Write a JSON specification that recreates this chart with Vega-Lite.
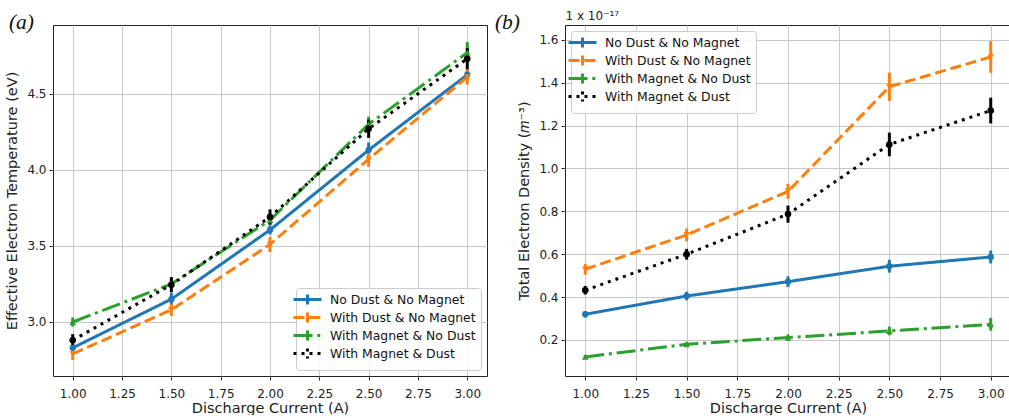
{
  "$schema": "https://vega.github.io/schema/vega-lite/v6.json",
  "background": "white",
  "padding": {"left": 4, "top": 8, "right": 0, "bottom": 0},
  "spacing": 6,
  "config": {
    "font": "DejaVu Sans",
    "view": {"stroke": "#222", "strokeWidth": 1},
    "axis": {
      "labelFont": "DejaVu Sans",
      "labelFontSize": 12,
      "labelColor": "#222",
      "titleFont": "DejaVu Sans",
      "titleFontSize": 14.5,
      "titleFontWeight": "normal",
      "titleColor": "#222",
      "domain": false,
      "tickColor": "#333",
      "tickSize": 4,
      "labelPadding": 3,
      "gridColor": "#c8c8c8",
      "gridWidth": 1
    },
    "axisX": {"labelPadding": 8},
    "legend": {
      "labelFont": "DejaVu Sans",
      "labelFontSize": 12.4,
      "labelColor": "#111",
      "labelLimit": 300
    }
  },
  "datasets": {
    "temperature": [
      {"series": "No Dust & No Magnet", "I": 1.0, "v": 2.83, "err": 0.02},
      {"series": "No Dust & No Magnet", "I": 1.5, "v": 3.15, "err": 0.04},
      {"series": "No Dust & No Magnet", "I": 2.0, "v": 3.605, "err": 0.03},
      {"series": "No Dust & No Magnet", "I": 2.5, "v": 4.13, "err": 0.05},
      {"series": "No Dust & No Magnet", "I": 3.0, "v": 4.625, "err": 0.03},
      {"series": "With Dust & No Magnet", "I": 1.0, "v": 2.79, "err": 0.04},
      {"series": "With Dust & No Magnet", "I": 1.5, "v": 3.08, "err": 0.04},
      {"series": "With Dust & No Magnet", "I": 2.0, "v": 3.51, "err": 0.05},
      {"series": "With Dust & No Magnet", "I": 2.5, "v": 4.07, "err": 0.05},
      {"series": "With Dust & No Magnet", "I": 3.0, "v": 4.61, "err": 0.05},
      {"series": "With Magnet & No Dust", "I": 1.0, "v": 3.0, "err": 0.03},
      {"series": "With Magnet & No Dust", "I": 1.5, "v": 3.25, "err": 0.03},
      {"series": "With Magnet & No Dust", "I": 2.0, "v": 3.67, "err": 0.03},
      {"series": "With Magnet & No Dust", "I": 2.5, "v": 4.3, "err": 0.05},
      {"series": "With Magnet & No Dust", "I": 3.0, "v": 4.77, "err": 0.07},
      {"series": "With Magnet & Dust", "I": 1.0, "v": 2.88, "err": 0.04},
      {"series": "With Magnet & Dust", "I": 1.5, "v": 3.245, "err": 0.05},
      {"series": "With Magnet & Dust", "I": 2.0, "v": 3.69, "err": 0.05},
      {"series": "With Magnet & Dust", "I": 2.5, "v": 4.27, "err": 0.06},
      {"series": "With Magnet & Dust", "I": 3.0, "v": 4.73, "err": 0.07}
    ],
    "density": [
      {"series": "No Dust & No Magnet", "I": 1.0, "v": 0.32, "err": 0.015},
      {"series": "No Dust & No Magnet", "I": 1.5, "v": 0.405, "err": 0.02},
      {"series": "No Dust & No Magnet", "I": 2.0, "v": 0.472, "err": 0.025},
      {"series": "No Dust & No Magnet", "I": 2.5, "v": 0.544, "err": 0.03},
      {"series": "No Dust & No Magnet", "I": 3.0, "v": 0.587, "err": 0.03},
      {"series": "With Dust & No Magnet", "I": 1.0, "v": 0.53, "err": 0.025},
      {"series": "With Dust & No Magnet", "I": 1.5, "v": 0.69, "err": 0.03},
      {"series": "With Dust & No Magnet", "I": 2.0, "v": 0.893, "err": 0.035},
      {"series": "With Dust & No Magnet", "I": 2.5, "v": 1.381, "err": 0.066},
      {"series": "With Dust & No Magnet", "I": 3.0, "v": 1.52, "err": 0.074},
      {"series": "With Magnet & No Dust", "I": 1.0, "v": 0.121, "err": 0.01},
      {"series": "With Magnet & No Dust", "I": 1.5, "v": 0.18, "err": 0.01},
      {"series": "With Magnet & No Dust", "I": 2.0, "v": 0.211, "err": 0.015},
      {"series": "With Magnet & No Dust", "I": 2.5, "v": 0.242, "err": 0.02},
      {"series": "With Magnet & No Dust", "I": 3.0, "v": 0.273, "err": 0.03},
      {"series": "With Magnet & Dust", "I": 1.0, "v": 0.432, "err": 0.02},
      {"series": "With Magnet & Dust", "I": 1.5, "v": 0.6, "err": 0.025},
      {"series": "With Magnet & Dust", "I": 2.0, "v": 0.787, "err": 0.04},
      {"series": "With Magnet & Dust", "I": 2.5, "v": 1.112, "err": 0.055},
      {"series": "With Magnet & Dust", "I": 3.0, "v": 1.27, "err": 0.06}
    ]
  },
  "resolve": {
    "scale": {"color": "independent", "strokeDash": "independent", "shape": "independent", "size": "independent"},
    "legend": {"color": "independent", "strokeDash": "independent", "shape": "independent", "size": "independent"}
  },
  "hconcat": [
    {
      "width": 434,
      "height": 351,
      "title": {"text": "(a)", "anchor": "start", "frame": "bounds", "font": "Liberation Serif", "fontStyle": "italic", "fontWeight": "normal", "fontSize": 21.5, "color": "#111", "baseline": "alphabetic", "offset": 0, "dx": 4, "dy": 25},
      "data": {"name": "temperature"},
      "encoding": {
        "x": {"field": "I", "type": "quantitative",
              "scale": {"domain": [0.9, 3.1], "nice": false, "zero": false},
              "axis": {"title": "Discharge Current (A)", "values": [1, 1.25, 1.5, 1.75, 2, 2.25, 2.5, 2.75, 3], "format": ".2f", "titlePadding": 2}}
      },
      "layer": [
        {
          "mark": {"type": "line", "strokeWidth": 3, "strokeCap": "butt", "strokeJoin": "round"},
          "encoding": {
            "y": {"field": "v", "type": "quantitative",
                  "scale": {"domain": [2.645, 4.952], "nice": false, "zero": false},
                  "axis": {"title": "Effective Electron Temperature (eV)", "values": [3.0, 3.5, 4.0, 4.5], "format": ".1f", "titlePadding": 7}},
            "color": {"field": "series", "type": "nominal",
                      "scale": {"domain": ["No Dust & No Magnet", "With Dust & No Magnet", "With Magnet & No Dust", "With Magnet & Dust"], "range": ["#1f77b4", "#ff7f0e", "#2ca02c", "#000000"]},
                      "legend": {"title": null, "orient": "bottom-right", "offset": 6, "symbolType": "M-2.8,0H2.8M0,-1V1", "symbolSize": 100, "symbolStrokeWidth": 3, "fillColor": "rgba(255,255,255,0.85)", "strokeColor": "#cccccc", "cornerRadius": 3, "padding": 5, "rowPadding": -6.5, "labelOffset": 16}},
            "strokeDash": {"field": "series", "type": "nominal",
                      "scale": {"domain": ["No Dust & No Magnet", "With Dust & No Magnet", "With Magnet & No Dust", "With Magnet & Dust"], "range": [[1, 0], [11, 4.8], [19, 4.8, 3, 4.8], [3, 5]]},
                      "legend": {"title": null, "orient": "bottom-right", "offset": 6, "symbolType": "M-2.8,0H2.8M0,-1V1", "symbolSize": 100, "symbolStrokeWidth": 3, "fillColor": "rgba(255,255,255,0.85)", "strokeColor": "#cccccc", "cornerRadius": 3, "padding": 5, "rowPadding": -6.5, "labelOffset": 16}}
          }
        },
        {
          "mark": {"type": "errorbar", "ticks": false, "thickness": 3},
          "encoding": {
            "y": {"field": "v", "type": "quantitative", "title": "Effective Electron Temperature (eV)"},
            "yError": {"field": "err"},
            "color": {"field": "series", "type": "nominal", "legend": null}
          }
        },
        {
          "transform": [{"calculate": "datum.series", "as": "kind"}],
          "mark": {"type": "point", "filled": true, "opacity": 1},
          "encoding": {
            "y": {"field": "v", "type": "quantitative", "title": "Effective Electron Temperature (eV)"},
            "color": {"field": "series", "type": "nominal", "legend": null},
            "shape": {"field": "kind", "type": "nominal", "legend": null,
                      "scale": {"range": ["circle", "triangle-down", "circle", "triangle-up"]}},
            "size": {"field": "kind", "type": "nominal", "legend": null,
                      "scale": {"range": [40, 45, 60, 45]}}
          }
        }
      ]
    },
    {
      "width": 446,
      "height": 351,
      "title": {"text": "(b)", "anchor": "start", "frame": "bounds", "font": "Liberation Serif", "fontStyle": "italic", "fontWeight": "normal", "fontSize": 21.5, "color": "#111", "baseline": "alphabetic", "offset": 0, "dx": -22, "dy": 41},
      "data": {"name": "density"},
      "encoding": {
        "x": {"field": "I", "type": "quantitative",
              "scale": {"domain": [0.9, 3.1], "nice": false, "zero": false},
              "axis": {"title": "Discharge Current (A)", "values": [1, 1.25, 1.5, 1.75, 2, 2.25, 2.5, 2.75, 3], "format": ".2f", "titlePadding": 2}}
      },
      "resolve": {"axis": {"y": "independent"}},
      "layer": [
        {
          "mark": {"type": "line", "strokeWidth": 3, "strokeCap": "butt", "strokeJoin": "round"},
          "encoding": {
            "y": {"field": "v", "type": "quantitative",
                  "scale": {"domain": [0.032, 1.669], "nice": false, "zero": false},
                  "axis": {"title": "Total Electron Density (𝑚⁻³)", "values": [0.2, 0.4, 0.6, 0.8, 1.0, 1.2, 1.4, 1.6], "format": ".1f", "titlePadding": 7}},
            "color": {"field": "series", "type": "nominal",
                      "scale": {"domain": ["No Dust & No Magnet", "With Dust & No Magnet", "With Magnet & No Dust", "With Magnet & Dust"], "range": ["#1f77b4", "#ff7f0e", "#2ca02c", "#000000"]},
                      "legend": {"title": null, "orient": "top-left", "offset": 6, "symbolType": "M-2.8,0H2.8M0,-1V1", "symbolSize": 100, "symbolStrokeWidth": 3, "fillColor": "rgba(255,255,255,0.85)", "strokeColor": "#cccccc", "cornerRadius": 3, "padding": 5, "rowPadding": -6.5, "labelOffset": 16}},
            "strokeDash": {"field": "series", "type": "nominal",
                      "scale": {"domain": ["No Dust & No Magnet", "With Dust & No Magnet", "With Magnet & No Dust", "With Magnet & Dust"], "range": [[1, 0], [11, 4.8], [19, 4.8, 3, 4.8], [3, 5]]},
                      "legend": {"title": null, "orient": "top-left", "offset": 6, "symbolType": "M-2.8,0H2.8M0,-1V1", "symbolSize": 100, "symbolStrokeWidth": 3, "fillColor": "rgba(255,255,255,0.85)", "strokeColor": "#cccccc", "cornerRadius": 3, "padding": 5, "rowPadding": -6.5, "labelOffset": 16}}
          }
        },
        {
          "mark": {"type": "errorbar", "ticks": false, "thickness": 3},
          "encoding": {
            "y": {"field": "v", "type": "quantitative", "axis": null},
            "yError": {"field": "err"},
            "color": {"field": "series", "type": "nominal", "legend": null}
          }
        },
        {
          "transform": [{"calculate": "datum.series", "as": "kind"}],
          "mark": {"type": "point", "filled": true, "opacity": 1},
          "encoding": {
            "y": {"field": "v", "type": "quantitative",
                  "axis": {"orient": "right", "labels": false, "ticks": false, "domain": false, "grid": false, "title": "1 x 10⁻¹⁷", "titleAngle": 0, "titleX": -446, "titleY": -6, "titleAlign": "left", "titleBaseline": "alphabetic", "titleFontSize": 12, "titlePadding": 0}},
            "color": {"field": "series", "type": "nominal", "legend": null},
            "shape": {"field": "kind", "type": "nominal", "legend": null,
                      "scale": {"range": ["circle", "triangle-down", "circle", "triangle-up"]}},
            "size": {"field": "kind", "type": "nominal", "legend": null,
                      "scale": {"range": [40, 45, 60, 45]}}
          }
        }
      ]
    }
  ]
}
